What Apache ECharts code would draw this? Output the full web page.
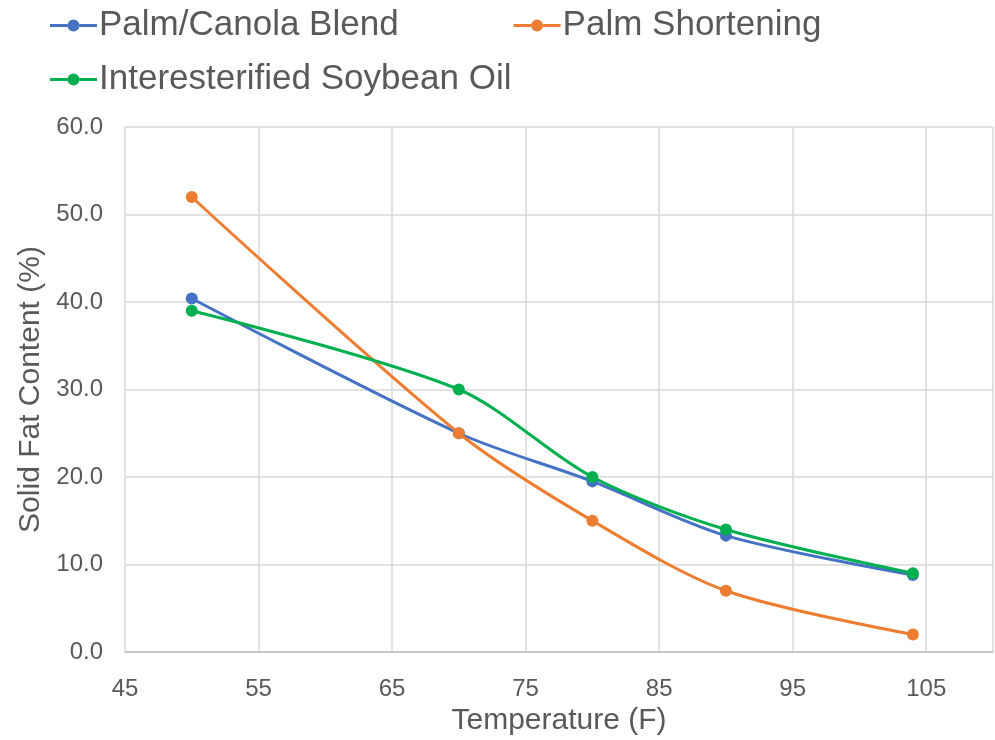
<!DOCTYPE html>
<html>
<head>
<meta charset="utf-8">
<script src="https://cdn.jsdelivr.net/npm/echarts@6/dist/echarts.min.js"></script>
<style>html,body{margin:0;padding:0;background:#fff}#c{width:995px;height:740px}</style>
</head>
<body>
<div id="c"></div>
<script>
const temperatures = [50, 70, 80, 90, 104];
const palmCanola = [40.4, 25.0, 19.5, 13.3, 8.8];
const palmShortening = [52.0, 25.0, 15.0, 7.0, 2.0];
const interesterified = [39.0, 30.0, 20.0, 14.0, 9.0];
const seriesNames = ['Palm/Canola Blend', 'Palm Shortening', 'Interesterified Soybean Oil'];
const colors = ['#4472C4', '#ED7D31', '#00B050'];

const pair = (ys) => temperatures.map((t, i) => [t, ys[i]]);
const font = 'Liberation Sans, Arial, sans-serif';
const chart = echarts.init(document.getElementById('c'));
const mk = (name, ys, color) => ({
  name, type: 'line', data: pair(ys), smooth: 0.3,
  symbol: 'circle', symbolSize: 12,
  lineStyle: { width: 3, color }, itemStyle: { color }
});
const iconPath = 'path://M0,4.5 L17.5,4.5 L17.5,7.5 L0,7.5 Z M29.5,4.5 L47,4.5 L47,7.5 L29.5,7.5 Z ' +
  'M17.5,6 A6,6 0 1 1 29.5,6 A6,6 0 1 1 17.5,6 Z';
const legendBase = {
  icon: iconPath,
  itemWidth: 47, itemHeight: 12,
  textStyle: { fontSize: 35, color: '#595959', fontFamily: font, padding: [0,0,0,-3] },
  padding: 0
};
chart.setOption({
  animation: false,
  color: colors,
  legend: [
    Object.assign({}, legendBase, { data: [seriesNames[0], seriesNames[1]], left: 50, top: 8, itemGap: 115 }),
    Object.assign({}, legendBase, { data: [seriesNames[2]], left: 50, top: 62 })
  ],
  grid: { left: 125, right: 2, top: 127, bottom: 88, containLabel: false, outerBoundsMode: 'none' },
  xAxis: {
    type: 'value', min: 45, max: 110, interval: 10,
    name: 'Temperature (F)', nameLocation: 'middle', nameGap: 53,
    nameTextStyle: { fontSize: 30, color: '#595959', fontFamily: font },
    axisLine: { show: true, lineStyle: { color: '#bfbfbf', width: 1.5 } },
    axisTick: { show: false },
    axisLabel: { fontSize: 24, color: '#595959', fontFamily: font, margin: 25,
      formatter: v => (v > 105 ? '' : String(v)) },
    splitLine: { show: true, lineStyle: { color: '#d9d9d9', width: 1.5 } }
  },
  yAxis: {
    type: 'value', min: 0, max: 60, interval: 10,
    name: 'Solid Fat Content (%)', nameLocation: 'middle', nameGap: 76, nameRotate: 90,
    nameTextStyle: { fontSize: 30, color: '#595959', fontFamily: font },
    axisLine: { show: false }, axisTick: { show: false },
    axisLabel: { fontSize: 24, color: '#595959', fontFamily: font, margin: 22,
      formatter: v => v.toFixed(1) },
    splitLine: { show: true, lineStyle: { color: '#d9d9d9', width: 1.5 } }
  },
  series: [
    mk(seriesNames[0], palmCanola, colors[0]),
    mk(seriesNames[1], palmShortening, colors[1]),
    mk(seriesNames[2], interesterified, colors[2])
  ]
});
</script>
</body>
</html>
